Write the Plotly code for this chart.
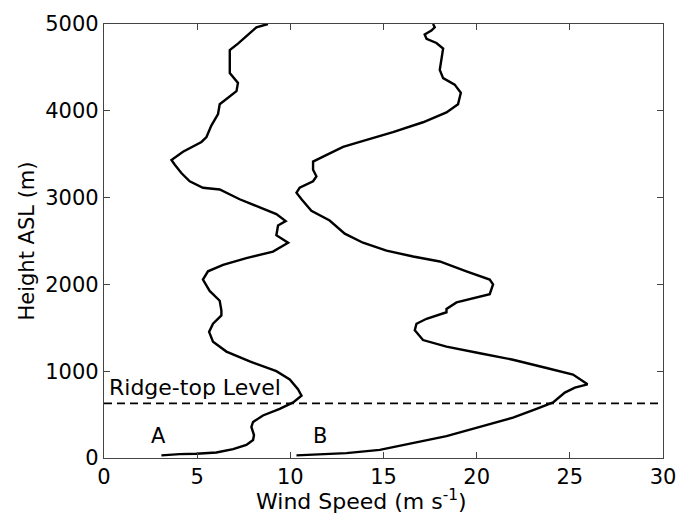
import plotly.graph_objects as go

# Wind speed profiles (m/s) against height above sea level (m)
height_a = [30, 45, 49, 63, 102, 150, 207, 264, 358, 415, 490, 566, 641, 717, 792, 906, 1000,
            1113, 1226, 1340, 1453, 1547, 1642, 1698, 1812, 1925, 2056, 2151, 2226, 2302, 2378,
            2480, 2566, 2679, 2729, 2811, 2887, 2981, 3094, 3113, 3188, 3283, 3378, 3434, 3528,
            3641, 3698, 3830, 3963, 4076, 4227, 4321, 4434, 4699, 4774, 4887, 4962, 5000]
speed_a = [3.08, 4.06, 4.96, 6.03, 6.93, 7.64, 8.0, 8.05, 7.91, 8.0, 8.53, 9.43, 10.15, 10.6,
           10.41, 9.97, 9.25, 7.82, 6.57, 5.85, 5.64, 5.85, 6.3, 6.3, 6.21, 5.67, 5.31, 5.58,
           6.39, 7.64, 9.07, 9.88, 9.25, 9.34, 9.75, 9.25, 8.36, 7.28, 6.21, 5.31, 4.6, 4.15,
           3.8, 3.62, 4.24, 5.23, 5.5, 5.76, 6.12, 6.21, 7.11, 7.19, 6.75, 6.75, 7.19, 7.82,
           8.18, 8.8]

height_b = [30, 45, 56, 94, 170, 252, 358, 464, 566, 641, 754, 811, 849, 962, 1037, 1132, 1207,
            1283, 1359, 1472, 1547, 1604, 1679, 1717, 1792, 1887, 2000, 2056, 2151, 2264, 2321,
            2389, 2480, 2585, 2736, 2849, 2981, 3057, 3113, 3188, 3245, 3321, 3378, 3415, 3472,
            3585, 3641, 3755, 3868, 3981, 4076, 4208, 4302, 4377, 4472, 4586, 4717, 4781, 4830,
            4880, 4925, 4962, 5000]
speed_b = [10.33, 11.58, 13.01, 14.8, 16.59, 18.38, 20.17, 21.95, 23.21, 24.1, 24.73, 25.27,
           25.95, 25.17, 23.75, 21.95, 20.17, 18.38, 17.12, 16.68, 16.77, 17.31, 18.38, 18.38,
           18.92, 20.7, 20.88, 20.7, 19.45, 18.02, 16.59, 15.16, 13.9, 12.92, 12.11, 11.13,
           10.6, 10.33, 10.5, 11.22, 11.4, 11.22, 11.22, 11.22, 11.76, 12.83, 13.73, 15.51,
           17.12, 18.38, 19.0, 19.15, 18.82, 18.2, 18.02, 18.11, 18.2, 17.84, 17.31, 17.21,
           17.57, 17.75, 17.66]

ridge_top = 630
x_ticks = [0, 5, 10, 15, 20, 25, 30]
y_ticks = [0, 1000, 2000, 3000, 4000, 5000]

font = "DejaVu Sans, Arial, sans-serif"
fsize = 21

fig = go.Figure()
fig.add_trace(go.Scatter(x=speed_a, y=height_a, mode="lines",
                         line=dict(color="black", width=2.4), showlegend=False))
fig.add_trace(go.Scatter(x=speed_b, y=height_b, mode="lines",
                         line=dict(color="black", width=2.4), showlegend=False))
fig.add_trace(go.Scatter(x=[0, 30], y=[ridge_top, ridge_top], mode="lines",
                         line=dict(color="black", width=1.8, dash="8px,5px"), showlegend=False))

fig.add_annotation(x=0.15, y=ridge_top, text="Ridge-top Level", showarrow=False,
                   xanchor="left", yanchor="bottom", yshift=1,
                   font=dict(family=font, size=fsize + 1, color="black"))
fig.add_annotation(x=2.9, y=250, text="A", showarrow=False,
                   font=dict(family=font, size=fsize, color="black"))
fig.add_annotation(x=11.6, y=250, text="B", showarrow=False,
                   font=dict(family=font, size=fsize, color="black"))
# x-axis title, set just left of the axis centre
fig.add_annotation(xref="paper", yref="paper", x=0.46, y=-0.097,
                   text="Wind Speed (m s<sup>-1</sup>)", showarrow=False,
                   xanchor="center", yanchor="middle",
                   font=dict(family=font, size=fsize + 1, color="black"))

axis_common = dict(
    showline=True, linecolor="#444", linewidth=1.2, mirror="ticks",
    ticks="inside", ticklen=6, tickcolor="#444", tickwidth=1,
    showgrid=False, zeroline=False,
    tickfont=dict(family=font, size=fsize, color="black"),
)

fig.update_xaxes(range=[0, 30], tickvals=x_ticks, **axis_common)
fig.update_yaxes(range=[0, 5000], tickvals=y_ticks, **axis_common,
                 title=dict(text="Height ASL (m)", standoff=4,
                            font=dict(family=font, size=fsize, color="black")))

fig.update_layout(
    width=690, height=518,
    margin=dict(l=104, r=27, t=17, b=60),
    plot_bgcolor="white", paper_bgcolor="white",
)

fig.write_html("out.html")
